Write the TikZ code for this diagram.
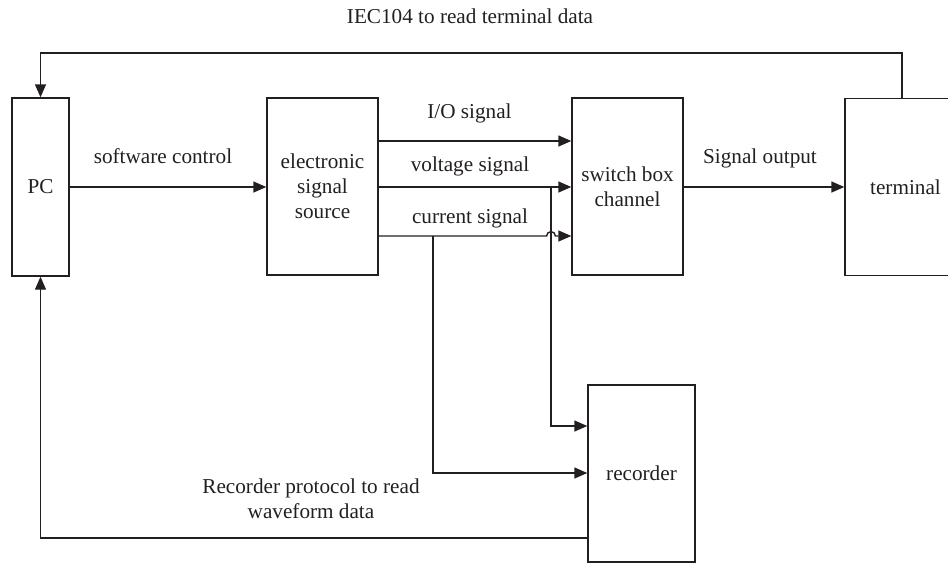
\documentclass[tikz,border=0pt]{standalone}
\usepackage{fontspec}
\setmainfont{Liberation Serif}
\usetikzlibrary{arrows.meta,positioning}
\definecolor{inkGray}{RGB}{35,31,32}

\begin{document}
\begin{tikzpicture}[x=0.5pt,y=-0.5pt,
    font=\fontsize{10.6}{12.5}\selectfont, text=inkGray,
    blk/.style={rectangle, draw=inkGray, line width=0.7pt, align=center,
                inner sep=2pt, minimum height=88.5pt},
    sig/.style={draw=inkGray, line width=0.7pt,
                -{Triangle[length=6.5pt,width=5.5pt]}},
    lbl/.style={anchor=base, inner sep=0pt}
  ]
  \useasboundingbox (0,0) rectangle (948,563);

  % blocks
  \node[blk, minimum width=28.5pt, minimum height=89pt] (pc) at (40.5,187) {PC};
  \node[blk, minimum width=55.5pt] (src)  at (322.5,186.5) {electronic\\signal\\source};
  \node[blk, minimum width=55.5pt] (sw)   at (627.5,186.5) {switch box\\channel};
  \node[blk, minimum width=60.5pt] (term) at (905.5,187) {terminal};
  \node[blk, minimum width=53.5pt] (rec)  at (641.5,473.5) {recorder};

  % tap points on the signal lines
  \coordinate (vtap) at (551,187);
  \coordinate (itap) at (433,236);

  % forward path
  \draw[sig] (pc.east) -- (pc.east -| src.west);
  \draw[sig] (src.east |- 0,141) -- (sw.west |- 0,141);
  \draw[sig] (src.east |- vtap) -- (sw.west |- vtap);
  \draw[sig] (src.east |- itap) -- ([xshift=-2.2pt]vtap |- itap)
    arc[start angle=180, end angle=0, radius=2.2pt] -- (sw.west |- itap);
  \draw[sig] (sw.east |- vtap) -- (term.west |- vtap);

  % branches to the recorder
  \draw[sig] (vtap) -- (vtap |- 0,426) -- (rec.west |- 0,426);
  \draw[sig] (itap) -- (itap |- 0,473) -- (rec.west |- 0,473);

  % read-back paths to the PC
  \draw[sig] (term.north -| 902,0) -- (902,53) -| (pc.north);
  \draw[sig] (rec.west |- 0,538) -| (pc.south);

  % labels
  \node[lbl] (iecLbl) at (470,23)  {IEC104 to read terminal data};
  \node[lbl] (swLbl)  at (163,163) {software control};
  \node[lbl] (ioLbl)  at (469.5,118) {I/O signal};
  \node[lbl] (uLbl)   at (470,171) {voltage signal};
  \node[lbl] (iLbl)   at (470,223) {current signal};
  \node[lbl] (outLbl) at (760,163) {Signal output};
  \node[anchor=north, inner sep=0pt, align=center] (recLbl) at (311,478.5)
    {Recorder protocol to read\\waveform data};
\end{tikzpicture}
\end{document}
